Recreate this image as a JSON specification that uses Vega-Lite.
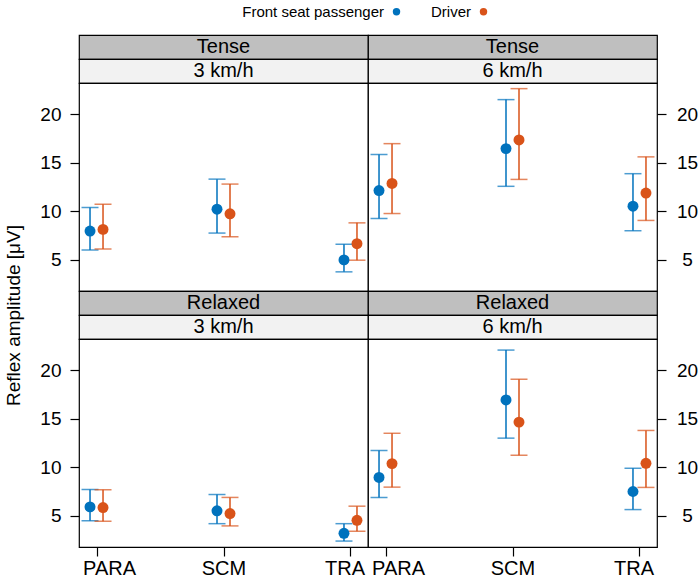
{
  "$schema": "https://vega.github.io/schema/vega-lite/v6.json",
  "padding": {"left": 3, "top": 4, "right": 3, "bottom": 4},
  "bounds": "flush",
  "spacing": 0,
  "columns": 2,
  "data": {"values": [
    {"posture": "Tense", "speed": "3 km/h", "muscle": "PARA", "role": "Front seat passenger", "mean": 7.97, "lo": 6.02, "hi": 10.4},
    {"posture": "Tense", "speed": "3 km/h", "muscle": "PARA", "role": "Driver", "mean": 8.14, "lo": 6.13, "hi": 10.73},
    {"posture": "Tense", "speed": "3 km/h", "muscle": "SCM", "role": "Front seat passenger", "mean": 10.22, "lo": 7.76, "hi": 13.31},
    {"posture": "Tense", "speed": "3 km/h", "muscle": "SCM", "role": "Driver", "mean": 9.74, "lo": 7.38, "hi": 12.8},
    {"posture": "Tense", "speed": "3 km/h", "muscle": "TRA", "role": "Front seat passenger", "mean": 5.0, "lo": 3.77, "hi": 6.61},
    {"posture": "Tense", "speed": "3 km/h", "muscle": "TRA", "role": "Driver", "mean": 6.67, "lo": 4.97, "hi": 8.81},
    {"posture": "Tense", "speed": "6 km/h", "muscle": "PARA", "role": "Front seat passenger", "mean": 12.13, "lo": 9.26, "hi": 15.84},
    {"posture": "Tense", "speed": "6 km/h", "muscle": "PARA", "role": "Driver", "mean": 12.87, "lo": 9.77, "hi": 16.96},
    {"posture": "Tense", "speed": "6 km/h", "muscle": "SCM", "role": "Front seat passenger", "mean": 16.45, "lo": 12.57, "hi": 21.49},
    {"posture": "Tense", "speed": "6 km/h", "muscle": "SCM", "role": "Driver", "mean": 17.34, "lo": 13.28, "hi": 22.62},
    {"posture": "Tense", "speed": "6 km/h", "muscle": "TRA", "role": "Front seat passenger", "mean": 10.52, "lo": 8.0, "hi": 13.87},
    {"posture": "Tense", "speed": "6 km/h", "muscle": "TRA", "role": "Driver", "mean": 11.88, "lo": 9.06, "hi": 15.6},
    {"posture": "Relaxed", "speed": "3 km/h", "muscle": "PARA", "role": "Front seat passenger", "mean": 5.93, "lo": 4.51, "hi": 7.72},
    {"posture": "Relaxed", "speed": "3 km/h", "muscle": "PARA", "role": "Driver", "mean": 5.86, "lo": 4.45, "hi": 7.69},
    {"posture": "Relaxed", "speed": "3 km/h", "muscle": "SCM", "role": "Front seat passenger", "mean": 5.52, "lo": 4.2, "hi": 7.2},
    {"posture": "Relaxed", "speed": "3 km/h", "muscle": "SCM", "role": "Driver", "mean": 5.24, "lo": 3.97, "hi": 6.9},
    {"posture": "Relaxed", "speed": "3 km/h", "muscle": "TRA", "role": "Front seat passenger", "mean": 3.21, "lo": 2.41, "hi": 4.2},
    {"posture": "Relaxed", "speed": "3 km/h", "muscle": "TRA", "role": "Driver", "mean": 4.55, "lo": 3.42, "hi": 6.0},
    {"posture": "Relaxed", "speed": "6 km/h", "muscle": "PARA", "role": "Front seat passenger", "mean": 8.96, "lo": 6.9, "hi": 11.72},
    {"posture": "Relaxed", "speed": "6 km/h", "muscle": "PARA", "role": "Driver", "mean": 10.38, "lo": 7.96, "hi": 13.5},
    {"posture": "Relaxed", "speed": "6 km/h", "muscle": "SCM", "role": "Front seat passenger", "mean": 16.93, "lo": 13.0, "hi": 22.06},
    {"posture": "Relaxed", "speed": "6 km/h", "muscle": "SCM", "role": "Driver", "mean": 14.65, "lo": 11.24, "hi": 19.06},
    {"posture": "Relaxed", "speed": "6 km/h", "muscle": "TRA", "role": "Front seat passenger", "mean": 7.51, "lo": 5.65, "hi": 9.9},
    {"posture": "Relaxed", "speed": "6 km/h", "muscle": "TRA", "role": "Driver", "mean": 10.41, "lo": 7.93, "hi": 13.79}
  ]},
  "concat": [
    {"width": 289, "height": 24, "data": {"values": [{"s": "Tense"}]}, "view": {"fill": "#bfbfbf", "stroke": "black", "strokeWidth": 1.2}, "mark": {"type": "text", "fontSize": 20, "baseline": "middle", "color": "black"}, "encoding": {"text": {"field": "s"}}},
    {"width": 289, "height": 24, "data": {"values": [{"s": "Tense"}]}, "view": {"fill": "#bfbfbf", "stroke": "black", "strokeWidth": 1.2}, "mark": {"type": "text", "fontSize": 20, "baseline": "middle", "color": "black"}, "encoding": {"text": {"field": "s"}}},
    {"width": 289, "height": 24, "data": {"values": [{"s": "3 km/h"}]}, "view": {"fill": "#f2f2f2", "stroke": "black", "strokeWidth": 1.2}, "mark": {"type": "text", "fontSize": 20, "baseline": "middle", "color": "black"}, "encoding": {"text": {"field": "s"}}},
    {"width": 289, "height": 24, "data": {"values": [{"s": "6 km/h"}]}, "view": {"fill": "#f2f2f2", "stroke": "black", "strokeWidth": 1.2}, "mark": {"type": "text", "fontSize": 20, "baseline": "middle", "color": "black"}, "encoding": {"text": {"field": "s"}}},
    {
      "width": 289, "height": 208,
      "view": {"fill": "white", "stroke": "black", "strokeWidth": 1.2},
      "transform": [{"filter": "datum.posture === 'Tense' && datum.speed === '3 km/h'"}],
      "encoding": {
        "x": {"field": "muscle", "type": "nominal", "scale": {"type": "point", "domain": ["PARA", "SCM", "TRA"], "padding": 0.138}, "axis": null},
        "xOffset": {"field": "role", "type": "nominal", "scale": {"type": "point", "domain": ["Front seat passenger", "Driver"], "range": [-6.5, 6.5], "padding": 0}}
      },
      "layer": [
        {"mark": {"type": "rule", "strokeWidth": 1.5}, "encoding": {"y": {"field": "lo", "type": "quantitative", "scale": {"domain": [1.8, 23.2], "nice": false, "zero": false}, "axis": {"orient": "left", "values": [5, 10, 15, 20], "tickSize": 9, "labelPadding": 9, "labelFontSize": 19, "labelAlign": "right", "title": "Reflex amplitude [μV]", "titleFontSize": 19, "titleFontWeight": "normal", "titleX": -66, "titleY": 232, "titleAngle": -90, "titleBaseline": "middle", "titleAlign": "center"}}, "y2": {"field": "hi"}, "color": {"condition": {"test": "datum.role === 'Driver'", "value": "#D95319"}, "value": "#0072BD"}}},
        {"mark": {"type": "tick", "thickness": 1.5, "size": 17}, "encoding": {"y": {"field": "lo", "type": "quantitative"}, "color": {"condition": {"test": "datum.role === 'Driver'", "value": "#D95319"}, "value": "#0072BD"}}},
        {"mark": {"type": "tick", "thickness": 1.5, "size": 17}, "encoding": {"y": {"field": "hi", "type": "quantitative"}, "color": {"condition": {"test": "datum.role === 'Driver'", "value": "#D95319"}, "value": "#0072BD"}}},
        {"mark": {"type": "point", "filled": true, "size": 120, "opacity": 1}, "encoding": {"y": {"field": "mean", "type": "quantitative"}, "color": {"field": "role", "type": "nominal", "title": null, "scale": {"domain": ["Front seat passenger", "Driver"], "range": ["#0072BD", "#D95319"]}, "legend": {"orient": "none", "legendX": 310, "legendY": -31, "direction": "horizontal", "title": null, "labelFontSize": 15, "labelAlign": "right", "labelOffset": -20, "symbolSize": 55, "symbolType": "circle", "symbolOpacity": 1, "columnPadding": 30}}}}
      ]
    },
    {
      "width": 289, "height": 208,
      "view": {"fill": "white", "stroke": "black", "strokeWidth": 1.2},
      "transform": [{"filter": "datum.posture === 'Tense' && datum.speed === '6 km/h'"}],
      "encoding": {
        "x": {"field": "muscle", "type": "nominal", "scale": {"type": "point", "domain": ["PARA", "SCM", "TRA"], "padding": 0.138}, "axis": null},
        "xOffset": {"field": "role", "type": "nominal", "scale": {"type": "point", "domain": ["Front seat passenger", "Driver"], "range": [-6.5, 6.5], "padding": 0}}
      },
      "layer": [
        {"mark": {"type": "rule", "strokeWidth": 1.5}, "encoding": {"y": {"field": "lo", "type": "quantitative", "scale": {"domain": [1.8, 23.2], "nice": false, "zero": false}, "axis": {"orient": "right", "values": [5, 10, 15, 20], "tickSize": 9, "labelPadding": 21, "labelFontSize": 19, "labelAlign": "center", "title": null}}, "y2": {"field": "hi"}, "color": {"condition": {"test": "datum.role === 'Driver'", "value": "#D95319"}, "value": "#0072BD"}}},
        {"mark": {"type": "tick", "thickness": 1.5, "size": 17}, "encoding": {"y": {"field": "lo", "type": "quantitative"}, "color": {"condition": {"test": "datum.role === 'Driver'", "value": "#D95319"}, "value": "#0072BD"}}},
        {"mark": {"type": "tick", "thickness": 1.5, "size": 17}, "encoding": {"y": {"field": "hi", "type": "quantitative"}, "color": {"condition": {"test": "datum.role === 'Driver'", "value": "#D95319"}, "value": "#0072BD"}}},
        {"mark": {"type": "point", "filled": true, "size": 120, "opacity": 1}, "encoding": {"y": {"field": "mean", "type": "quantitative"}, "color": {"field": "role", "type": "nominal", "title": null, "scale": {"domain": ["Front seat passenger", "Driver"], "range": ["#0072BD", "#D95319"]}}}}
      ]
    },
    {"width": 289, "height": 24, "data": {"values": [{"s": "Relaxed"}]}, "view": {"fill": "#bfbfbf", "stroke": "black", "strokeWidth": 1.2}, "mark": {"type": "text", "fontSize": 20, "baseline": "middle", "color": "black"}, "encoding": {"text": {"field": "s"}}},
    {"width": 289, "height": 24, "data": {"values": [{"s": "Relaxed"}]}, "view": {"fill": "#bfbfbf", "stroke": "black", "strokeWidth": 1.2}, "mark": {"type": "text", "fontSize": 20, "baseline": "middle", "color": "black"}, "encoding": {"text": {"field": "s"}}},
    {"width": 289, "height": 24, "data": {"values": [{"s": "3 km/h"}]}, "view": {"fill": "#f2f2f2", "stroke": "black", "strokeWidth": 1.2}, "mark": {"type": "text", "fontSize": 20, "baseline": "middle", "color": "black"}, "encoding": {"text": {"field": "s"}}},
    {"width": 289, "height": 24, "data": {"values": [{"s": "6 km/h"}]}, "view": {"fill": "#f2f2f2", "stroke": "black", "strokeWidth": 1.2}, "mark": {"type": "text", "fontSize": 20, "baseline": "middle", "color": "black"}, "encoding": {"text": {"field": "s"}}},
    {
      "width": 289, "height": 208,
      "view": {"fill": "white", "stroke": "black", "strokeWidth": 1.2},
      "transform": [{"filter": "datum.posture === 'Relaxed' && datum.speed === '3 km/h'"}],
      "encoding": {
        "x": {"field": "muscle", "type": "nominal", "scale": {"type": "point", "domain": ["PARA", "SCM", "TRA"], "padding": 0.138}, "axis": {"orient": "bottom", "tickSize": 9, "labelPadding": 2, "labelFontSize": 20, "labelAngle": 0, "labelFlush": 20, "labelFlushOffset": 14, "title": null}},
        "xOffset": {"field": "role", "type": "nominal", "scale": {"type": "point", "domain": ["Front seat passenger", "Driver"], "range": [-6.5, 6.5], "padding": 0}}
      },
      "layer": [
        {"mark": {"type": "rule", "strokeWidth": 1.5}, "encoding": {"y": {"field": "lo", "type": "quantitative", "scale": {"domain": [1.8, 23.2], "nice": false, "zero": false}, "axis": {"orient": "left", "values": [5, 10, 15, 20], "tickSize": 9, "labelPadding": 9, "labelFontSize": 19, "labelAlign": "right", "title": null}}, "y2": {"field": "hi"}, "color": {"condition": {"test": "datum.role === 'Driver'", "value": "#D95319"}, "value": "#0072BD"}}},
        {"mark": {"type": "tick", "thickness": 1.5, "size": 17}, "encoding": {"y": {"field": "lo", "type": "quantitative"}, "color": {"condition": {"test": "datum.role === 'Driver'", "value": "#D95319"}, "value": "#0072BD"}}},
        {"mark": {"type": "tick", "thickness": 1.5, "size": 17}, "encoding": {"y": {"field": "hi", "type": "quantitative"}, "color": {"condition": {"test": "datum.role === 'Driver'", "value": "#D95319"}, "value": "#0072BD"}}},
        {"mark": {"type": "point", "filled": true, "size": 120, "opacity": 1}, "encoding": {"y": {"field": "mean", "type": "quantitative"}, "color": {"field": "role", "type": "nominal", "title": null, "scale": {"domain": ["Front seat passenger", "Driver"], "range": ["#0072BD", "#D95319"]}}}}
      ]
    },
    {
      "width": 289, "height": 208,
      "view": {"fill": "white", "stroke": "black", "strokeWidth": 1.2},
      "transform": [{"filter": "datum.posture === 'Relaxed' && datum.speed === '6 km/h'"}],
      "encoding": {
        "x": {"field": "muscle", "type": "nominal", "scale": {"type": "point", "domain": ["PARA", "SCM", "TRA"], "padding": 0.138}, "axis": {"orient": "bottom", "tickSize": 9, "labelPadding": 2, "labelFontSize": 20, "labelAngle": 0, "labelFlush": 20, "labelFlushOffset": 14, "title": null}},
        "xOffset": {"field": "role", "type": "nominal", "scale": {"type": "point", "domain": ["Front seat passenger", "Driver"], "range": [-6.5, 6.5], "padding": 0}}
      },
      "layer": [
        {"mark": {"type": "rule", "strokeWidth": 1.5}, "encoding": {"y": {"field": "lo", "type": "quantitative", "scale": {"domain": [1.8, 23.2], "nice": false, "zero": false}, "axis": {"orient": "right", "values": [5, 10, 15, 20], "tickSize": 9, "labelPadding": 21, "labelFontSize": 19, "labelAlign": "center", "title": null}}, "y2": {"field": "hi"}, "color": {"condition": {"test": "datum.role === 'Driver'", "value": "#D95319"}, "value": "#0072BD"}}},
        {"mark": {"type": "tick", "thickness": 1.5, "size": 17}, "encoding": {"y": {"field": "lo", "type": "quantitative"}, "color": {"condition": {"test": "datum.role === 'Driver'", "value": "#D95319"}, "value": "#0072BD"}}},
        {"mark": {"type": "tick", "thickness": 1.5, "size": 17}, "encoding": {"y": {"field": "hi", "type": "quantitative"}, "color": {"condition": {"test": "datum.role === 'Driver'", "value": "#D95319"}, "value": "#0072BD"}}},
        {"mark": {"type": "point", "filled": true, "size": 120, "opacity": 1}, "encoding": {"y": {"field": "mean", "type": "quantitative"}, "color": {"field": "role", "type": "nominal", "title": null, "scale": {"domain": ["Front seat passenger", "Driver"], "range": ["#0072BD", "#D95319"]}}}}
      ]
    }
  ],
  "config": {
    "font": "Liberation Sans",
    "axis": {"grid": false, "domain": false, "tickColor": "black", "tickWidth": 1.2, "labelColor": "black", "titleColor": "black", "labelFont": "Liberation Sans", "titleFont": "Liberation Sans"},
    "legend": {"labelColor": "black", "labelFont": "Liberation Sans"},
    "text": {"font": "Liberation Sans"}
  }
}
